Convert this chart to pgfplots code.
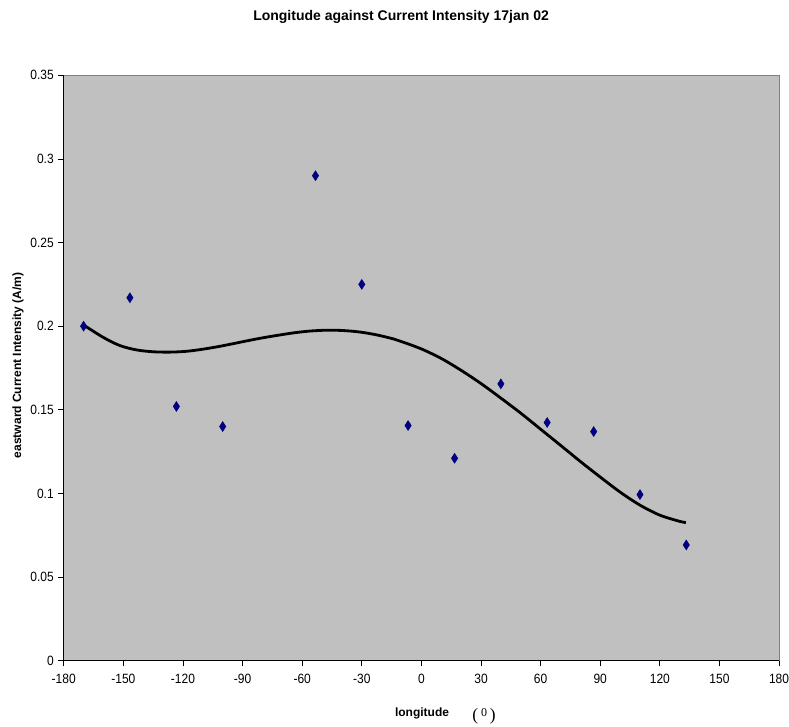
\documentclass[border=0pt]{standalone}
\usepackage{pgfplots}
\pgfplotsset{compat=1.18}
\usepackage{fontspec}
\setmainfont{Liberation Sans}
\newfontfamily\seriffont{Liberation Serif}
\definecolor{plotbg}{RGB}{192,192,192}
\definecolor{plotborder}{RGB}{128,128,128}
\definecolor{marknavy}{RGB}{0,0,128}
\begin{document}
\begin{tikzpicture}
\useasboundingbox (-47.8pt,-49pt) rectangle (543.95pt,495.5pt);
\begin{axis}[
  at={(0,0)}, anchor=south west,
  scale only axis,
  width=536.5pt, height=439pt,
  xmin=-180, xmax=180, ymin=0, ymax=0.35,
  axis background/.style={fill=plotbg, draw=plotborder},
  axis x line*=bottom, axis y line*=left,
  axis line style={black, line width=0.8pt},
  tick align=outside,
  tick style={black, line width=0.6pt},
  major tick length=4pt,
  xtick={-180,-150,...,180},
  xticklabels={-180,-150,-120,-90,-60,-30,0,30,60,90,120,150,180},
  ytick={0,0.05,0.1,0.15,0.2,0.25,0.3,0.35},
  yticklabels={0,0.05,0.1,0.15,0.2,0.25,0.3,0.35},
  ticklabel style={font=\fontsize{9}{10}\selectfont, yscale=1.12},
  xticklabel style={yshift=-2pt},
  clip=false,
]
\addplot[only marks, mark=diamond*, mark size=3.7pt, mark options={fill=marknavy, draw=marknavy, xscale=0.85}]
coordinates {
(-170,0.200) (-146.7,0.217) (-123.3,0.152) (-100,0.140) (-53.3,0.290)
(-30,0.225) (-6.7,0.1406) (16.7,0.121) (40,0.1655) (63.3,0.1424)
(86.7,0.137) (110,0.0993) (133.3,0.0692)
};
\addplot[black, line width=2.1pt, smooth, tension=0.5]
coordinates {
(-169.3,0.2002) (-160.1,0.1933) (-151.7,0.1884) (-143.3,0.1858) (-134.9,0.1847)
(-126.5,0.1845) (-118.1,0.1850) (-109.7,0.1863) (-101.3,0.1880) (-92.9,0.1900)
(-84.6,0.1920) (-76.2,0.1938) (-64.4,0.1960) (-56.0,0.1971) (-47.6,0.1976)
(-39.3,0.1974) (-30.9,0.1965) (-22.5,0.1948) (-14.1,0.1924) (-10,0.1908)
(0,0.1864) (10,0.1807) (20,0.1736) (30,0.1657) (40,0.1570)
(50,0.1480) (60,0.1384) (70,0.1288) (80,0.1191) (90,0.1098)
(100,0.1008) (110,0.0930) (120,0.0870) (130,0.0833) (133.1,0.0826)
};
\end{axis}
\node[font=\bfseries\fontsize{10.5}{12}\selectfont] at (253pt,482.75pt) {Longitude against Current Intensity 17jan 02};
\node[font=\bfseries\fontsize{9}{10}\selectfont, rotate=90] at (-34.3pt,221.5pt) {eastward Current Intensity (A/m)};
\node[font=\bfseries\fontsize{9}{10}\selectfont] at (268.7pt,-39.25pt) {longitude};
\node[font=\seriffont\fontsize{13}{14}\selectfont] at (315.2pt,-41.5pt) {(\,\raisebox{0.5ex}{\fontsize{9}{10}\selectfont 0}\,)};
\end{tikzpicture}
\end{document}
